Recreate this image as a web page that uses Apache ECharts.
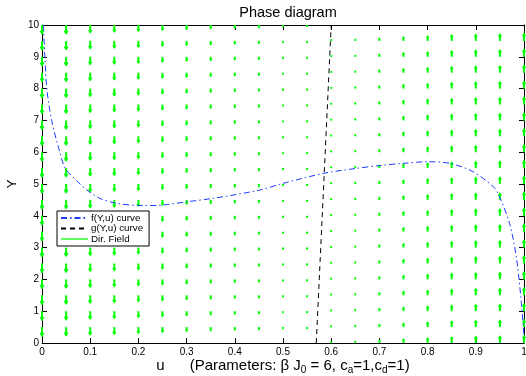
<!DOCTYPE html>
<html>
<head>
<meta charset="utf-8">
<script src="https://cdn.jsdelivr.net/npm/echarts@6/dist/echarts.min.js"></script>
<style>html,body{margin:0;padding:0;background:#fff;}#chart{width:526px;height:376px;}</style>
</head>
<body>
<div id="chart"></div>
<script>
// Axis ticks
const xTicks = [0, 0.1, 0.2, 0.3, 0.4, 0.5, 0.6, 0.7, 0.8, 0.9, 1];
const yTicks = [0, 1, 2, 3, 4, 5, 6, 7, 8, 9, 10];
// Direction field grid
const uCols = [0, 0.05, 0.1, 0.15, 0.2, 0.25, 0.3, 0.35, 0.4, 0.45, 0.5, 0.55, 0.6, 0.65, 0.7, 0.75, 0.8, 0.85, 0.9, 0.95, 1];
const yRows = [0, 0.5, 1, 1.5, 2, 2.5, 3, 3.5, 4, 4.5, 5, 5.5, 6, 6.5, 7, 7.5, 8, 8.5, 9, 9.5, 10];
// Arrow vertical length per column (Y units, negative = downward)
const dirLen = [-0.28, -0.27, -0.24, -0.22, -0.19, -0.16, -0.13, -0.11, -0.09, -0.08, -0.05, -0.03, 0.02, 0.05, 0.08, 0.12, 0.15, 0.18, 0.2, 0.21, 0.23];
// f(Y,u) curve
const fCurve = [[0.003,10],[0.006,9],[0.01,8],[0.02,7],[0.037,6],[0.048,5.5],[0.079,5.0],[0.093,4.81],[0.12,4.55],[0.155,4.39],[0.21,4.32],[0.252,4.34],[0.30,4.44],[0.355,4.55],[0.452,4.81],[0.5,5.02],[0.586,5.34],[0.652,5.49],[0.70,5.58],[0.749,5.65],[0.80,5.70],[0.846,5.65],[0.894,5.39],[0.936,4.92],[0.946,4.71],[0.970,3.76],[0.984,2.71],[0.994,1.35],[1.0,0.2]];
// g(Y,u) curve
const gCurve = [[0.569,0],[0.600,10]];

const arrowData = [];
uCols.forEach(function (u, i) {
  yRows.forEach(function (y) { arrowData.push([u, y, dirLen[i]]); });
});

const FONT = 'Liberation Sans, Arial, Helvetica, sans-serif';
const GREEN = '#00ff00';
const chart = echarts.init(document.getElementById('chart'), null, {renderer: 'canvas'});

const axisCommon = {
  axisLine: {show: true, onZero: false, lineStyle: {color: '#000', width: 1}},
  axisTick: {show: true, inside: true, length: 5, lineStyle: {color: '#000'}},
  splitLine: {show: false}
};

chart.setOption({
  animation: false,
  backgroundColor: '#fff',
  textStyle: {fontFamily: FONT},
  title: {
    text: 'Phase diagram', left: 283, top: 0, textAlign: 'center',
    textStyle: {fontSize: 14.5, fontWeight: 'normal', color: '#000', fontFamily: FONT}
  },
  grid: {left: 42, right: 2, top: 25, bottom: 33, containLabel: false, outerBoundsMode: 'none'},
  legend: {
    orient: 'vertical', left: 57, top: 211,
    data: ['f(Y,u) curve', 'g(Y,u) curve', 'Dir. Field'],
    backgroundColor: '#fff', borderColor: '#000', borderWidth: 1,
    padding: [2, 6, 2, 3], itemGap: 0.5, itemWidth: 27, itemHeight: 8,
    itemStyle: {opacity: 0},
    textStyle: {fontSize: 9.8, lineHeight: 10, color: '#000', fontFamily: FONT, padding: [0, 0, 0, -2]}
  },
  xAxis: [
    Object.assign({}, axisCommon, {
      type: 'value', min: xTicks[0], max: xTicks[xTicks.length - 1], interval: 0.1, position: 'bottom',
      axisLabel: {fontSize: 10, color: '#000', margin: 4, fontFamily: FONT},
      name: '{u|u}      (Parameters: β J{s|0} = 6, c{s|a}=1,c{s|d}=1)',
      nameLocation: 'middle', nameGap: 13, nameMoveOverlap: false,
      nameTextStyle: {fontSize: 15, lineHeight: 16, color: '#000', fontFamily: FONT,
        rich: {u: {fontSize: 15, lineHeight: 16, color: '#000', fontFamily: FONT},
               s: {fontSize: 10, color: '#000', fontFamily: FONT, verticalAlign: 'bottom', lineHeight: 19}}}
    }),
    Object.assign({}, axisCommon, {
      type: 'value', min: 0, max: 1, interval: 0.1, position: 'top', axisLabel: {show: false}
    })
  ],
  yAxis: [
    Object.assign({}, axisCommon, {
      type: 'value', min: yTicks[0], max: yTicks[yTicks.length - 1], interval: 1, position: 'left',
      axisLabel: {fontSize: 10, color: '#000', margin: 3, fontFamily: FONT},
      name: 'Y', nameLocation: 'middle', nameGap: 23, nameRotate: 90, nameMoveOverlap: false,
      nameTextStyle: {fontSize: 13, color: '#000', fontFamily: FONT}
    }),
    Object.assign({}, axisCommon, {
      type: 'value', min: 0, max: 10, interval: 1, position: 'right', axisLabel: {show: false}
    })
  ],
  series: [
    {
      type: 'custom', name: 'field', xAxisIndex: 0, yAxisIndex: 0, z: 3,
      data: arrowData,
      renderItem: function (params, api) {
        const u = api.value(0), y = api.value(1), d = api.value(2);
        const p0 = api.coord([u, y]);
        const p1 = api.coord([u, y + d]);
        const cs = params.coordSys;
        if (p1[1] < cs.y - 0.5 || p1[1] > cs.y + cs.height + 0.5) return null;
        const L = Math.abs(p1[1] - p0[1]);
        const dir = p1[1] > p0[1] ? 1 : -1;
        const hl = Math.max(L * 0.35, 0.6), hw = Math.max(L * 0.22, 0.4);
        return {
          type: 'group',
          children: [
            {type: 'line', shape: {x1: p0[0], y1: p0[1], x2: p1[0], y2: p1[1] + (L < 1 ? dir : 0)},
             style: {stroke: GREEN, lineWidth: 2}},
            {type: 'polyline', shape: {points: [[p1[0] - hw, p1[1] - dir * hl], [p1[0], p1[1]], [p1[0] + hw, p1[1] - dir * hl]]},
             style: {stroke: GREEN, lineWidth: 1.2, fill: null}}
          ]
        };
      }
    },
    {
      type: 'line', name: 'f(Y,u) curve', data: fCurve, smooth: 0.3, showSymbol: false, symbol: 'none', z: 4,
      lineStyle: {color: '#1a3cff', width: 1, type: [6, 3, 1.5, 3]}, itemStyle: {color: '#1a3cff', opacity: 0}
    },
    {
      type: 'line', name: 'g(Y,u) curve', data: gCurve, showSymbol: false, symbol: 'none', z: 4,
      lineStyle: {color: '#000', width: 1, type: [5, 4]}, itemStyle: {color: '#000', opacity: 0}
    },
    {
      type: 'line', name: 'Dir. Field', data: [], showSymbol: false, symbol: 'none',
      lineStyle: {color: '#60ff60', width: 2}, itemStyle: {color: '#60ff60', opacity: 0}
    }
  ]
});
</script>
</body>
</html>
